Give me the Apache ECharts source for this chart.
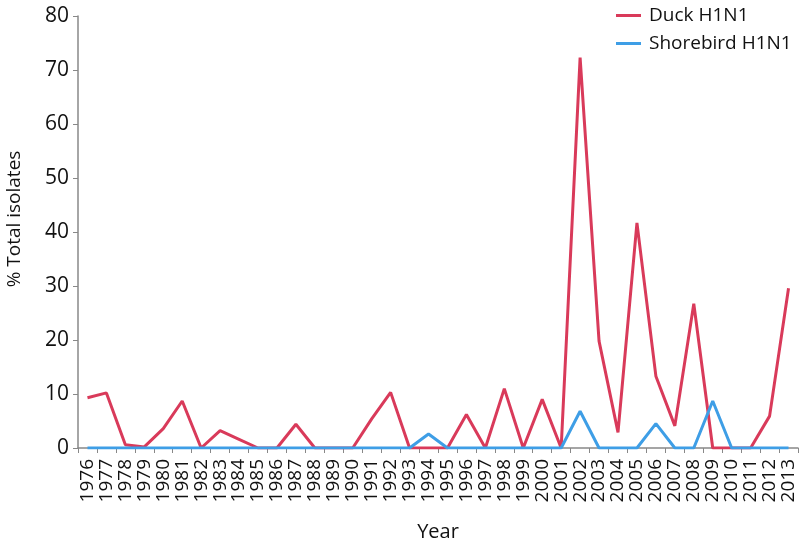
<!DOCTYPE html>
<html>
<head>
<meta charset="utf-8">
<script src="https://cdn.jsdelivr.net/npm/echarts@6/dist/echarts.min.js"></script>
<style>
  html, body { margin: 0; padding: 0; background: #fff; }
  #chart { width: 806px; height: 546px; }
</style>
</head>
<body>
<div id="chart"></div>
<script>
// years on the x axis
const years = [];
for (let y = 1976; y <= 2013; y++) years.push(String(y));

// % total isolates
const duck = [
  9.3, 10.2, 0.6, 0.2, 3.6, 8.7, 0, 3.2, 1.6, 0,
  0, 4.4, 0, 0, 0, 5.4, 10.3, 0, 0, 0,
  6.2, 0, 11.0, 0, 9.0, 0, 72.3, 19.8, 2.9, 41.7,
  13.3, 4.1, 26.7, 0, 0, 0, 5.9, 29.6
];
const shorebird = [
  0, 0, 0, 0, 0, 0, 0, 0, 0, 0,
  0, 0, 0, 0, 0, 0, 0, 0, 2.6, 0,
  0, 0, 0, 0, 0, 0, 6.8, 0, 0, 0,
  4.5, 0, 0, 8.7, 0, 0, 0, 0
];

const font = 'Open Sans';
const chart = echarts.init(document.getElementById('chart'));
chart.setOption({
  animation: false,
  textStyle: { fontFamily: font },
  grid: { left: 78, right: 8, top: 16, bottom: 98, containLabel: false, outerBoundsMode: 'none' },
  legend: {
    orient: 'vertical',
    left: 611,
    top: 1,
    itemGap: 9,
    itemWidth: 25,
    itemHeight: 3,
    icon: 'rect',
    textStyle: { fontSize: 19, color: '#111', fontFamily: font, padding: [0, 0, 0, 3] },
    data: ['Duck H1N1', 'Shorebird H1N1']
  },
  xAxis: {
    type: 'category',
    data: years,
    boundaryGap: true,
    name: 'Year',
    nameLocation: 'middle',
    nameGap: 74,
    nameTextStyle: { fontSize: 20, color: '#111' },
    axisLine: { lineStyle: { color: '#888', width: 1.5 } },
    axisTick: { show: true, length: 5, interval: 0, lineStyle: { color: '#888' } },
    axisLabel: { rotate: 90, interval: 0, fontSize: 19, color: '#111', margin: 11 }
  },
  yAxis: {
    type: 'value',
    min: 0,
    max: 80,
    interval: 10,
    name: '% Total isolates',
    nameLocation: 'middle',
    nameGap: 54,
    nameTextStyle: { fontSize: 19, color: '#111', padding: [0, 0, 0, 26] },
    axisLine: { show: true, lineStyle: { color: '#888', width: 1.5 } },
    axisTick: { show: true, length: 5, lineStyle: { color: '#888' } },
    splitLine: { show: false },
    axisLabel: { fontSize: 21, color: '#111', margin: 9 }
  },
  series: [
    {
      name: 'Duck H1N1',
      type: 'line',
      data: duck,
      symbol: 'none',
      z: 2,
      lineStyle: { color: '#d93a5a', width: 3 },
      itemStyle: { color: '#d93a5a' }
    },
    {
      name: 'Shorebird H1N1',
      type: 'line',
      data: shorebird,
      symbol: 'none',
      z: 3,
      lineStyle: { color: '#3e9ee6', width: 3 },
      itemStyle: { color: '#3e9ee6' }
    }
  ]
});
</script>
</body>
</html>
